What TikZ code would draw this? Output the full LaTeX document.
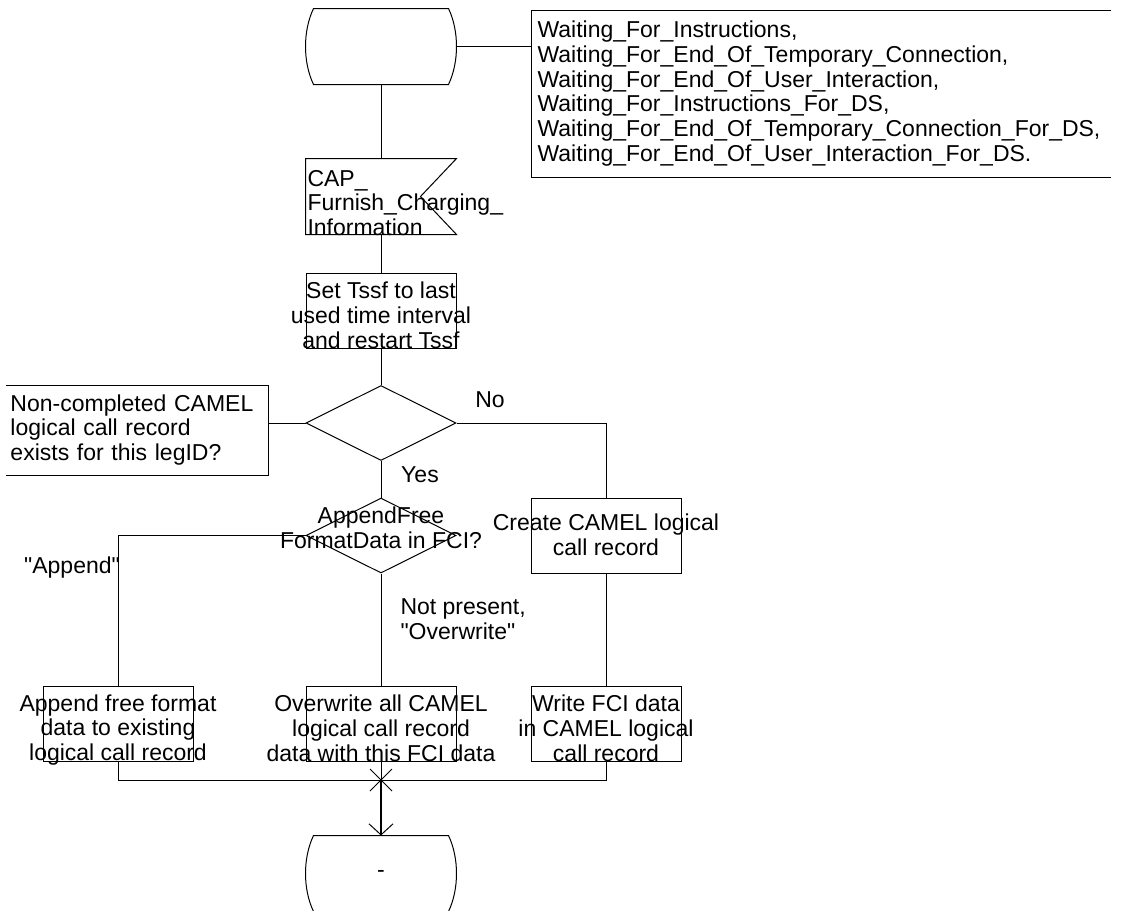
\documentclass[tikz,border=0pt]{standalone}
\usepackage{fontspec}
\setmainfont{Liberation Sans}[Ligatures=TeXOff]
\usetikzlibrary{shapes.geometric, arrows.meta}

\begin{document}
\begin{tikzpicture}[x=0.5pt, y=-0.5pt, line width=0.5pt,
    font=\fontsize{11.5pt}{12.4pt}\selectfont,
    caja/.style={rectangle, draw, minimum width=75pt, minimum height=37.5pt, inner sep=0pt},
    hueco/.style={rectangle, minimum width=75pt, minimum height=37.5pt, inner sep=0pt},
    rombo/.style={diamond, draw, minimum width=75pt, minimum height=37.5pt, inner sep=0pt},
    texto/.style={align=center, inner sep=0pt},
    rotulo/.style={align=left, inner sep=0pt},
    nota/.style={align=left}]

    \useasboundingbox (0,0) rectangle (1123,910);

    % #1 = nombre, #2 = posicion, #3 = texto
    \newcommand{\estado}[3]{%
        \node[hueco] (#1) at #2 {#3};
        \draw ([xshift=4pt]#1.north west) -- ([xshift=-4pt]#1.north east)
            .. controls ([xshift=1.33pt, yshift=-11.25pt]#1.north east)
                    and ([xshift=1.33pt, yshift=11.25pt]#1.south east) ..
            ([xshift=-4pt]#1.south east) -- ([xshift=4pt]#1.south west)
            .. controls ([xshift=-1.33pt, yshift=11.25pt]#1.south west)
                    and ([xshift=-1.33pt, yshift=-11.25pt]#1.north west) .. cycle;}

    % #1 = nombre, #2 = posicion de la caja, #3 = posicion del texto, #4 = texto
    \newcommand{\tarea}[4]{%
        \node[caja] (#1) at #2 {};
        \node[texto] (#1t) at #3 {#4};}

    \estado{inicio}{(381,46.5)}{}
    \node[nota, anchor=north west, text width=283.5pt, inner sep=3pt, minimum height=83pt]
        (estados) at (531,10) {Waiting\_For\_Instructions,\\
        Waiting\_For\_End\_Of\_Temporary\_Connection,\\
        Waiting\_For\_End\_Of\_User\_Interaction,\\
        Waiting\_For\_Instructions\_For\_DS,\\
        Waiting\_For\_End\_Of\_Temporary\_Connection\_For\_DS,\\
        Waiting\_For\_End\_Of\_User\_Interaction\_For\_DS.};
    \draw (estados.north east) -- (estados.north west) -- (estados.south west) -- (estados.south east);

    % senal de entrada
    \node[hueco] (senal) at (381,196.5) {};
    \draw (senal.north west) -- (senal.north east) -- ([xshift=-18pt]senal.east)
        -- (senal.south east) -- (senal.south west) -- cycle;
    \node[rotulo, anchor=west] (senalt) at (307,203) {CAP\_\\Furnish\_Charging\_\\Information};

    \tarea{reloj}{(381,310.5)}{(381,315)}{Set Tssf to last\\used time interval\\and restart Tssf}

    \node[rombo] (existe) at (381,423) {};
    \node[nota, anchor=north east, text width=126.5pt, inner sep=2pt, minimum height=44.5pt]
        (existenota) at (268,385) {Non-completed CAMEL\\logical call record\\exists for this legID?};
    \draw (existenota.north west) -- (existenota.north east) -- (existenota.south east) -- (existenota.south west);

    \node[rombo] (modo) at (381,535.5) {};
    \node[texto] (modot) at (381,528) {AppendFree\\FormatData in FCI?};

    \tarea{crear}{(606,535.5)}{(606,534.5)}{Create CAMEL logical\\call record}
    \tarea{anadir}{(118,723.5)}{(118,730)}{Append free format\\data to existing\\logical call record}
    \tarea{sobrescribir}{(381,723.5)}{(381,728.5)}{Overwrite all CAMEL\\logical call record\\data with this FCI data}
    \tarea{escribir}{(606,723.5)}{(606,728.5)}{Write FCI data\\in CAMEL logical\\call record}

    \estado{fin}{(381,873.5)}{\raisebox{-2pt}{-}}

    % etiquetas de las ramas
    \node[inner sep=0pt] (no) at (490,400) {No};
    \node[inner sep=0pt] (si) at (420,475) {Yes};
    \node[inner sep=0pt] (append) at (72,568) {"Append"};
    \node[rotulo, anchor=west] (presente) at (400,619.5) {Not present,\\"Overwrite"};

    % conexiones
    \draw (inicio.east) -- (inicio.east -| estados.west);
    \draw (inicio.south) -- (senal.north);
    \draw (senal.south) -- (reloj.north);
    \draw (reloj.south) -- (existe.north);
    \draw (existe.west) -- (existe.west -| existenota.east);
    \draw (existe.east) -| (crear.north);
    \draw (existe.south) -- (modo.north);
    \draw (modo.west) -| (anadir.north);
    \draw (modo.south) -- (sobrescribir.north);
    \draw (crear.south) -- (escribir.north);

    \coordinate (union) at (381,780);
    \draw (anadir.south) |- (union) -| (escribir.south);
    \draw (sobrescribir.south) -- (union);
    \draw ([shift={(-11,-11)}]union) -- ([shift={(11,11)}]union);
    \draw ([shift={(-11,11)}]union) -- ([shift={(11,-11)}]union);
    \draw[line width=1pt, -{Straight Barb[length=5.5pt, width=12pt, line width=0.5pt]}]
        (union) -- (fin.north);

\end{tikzpicture}
\end{document}
